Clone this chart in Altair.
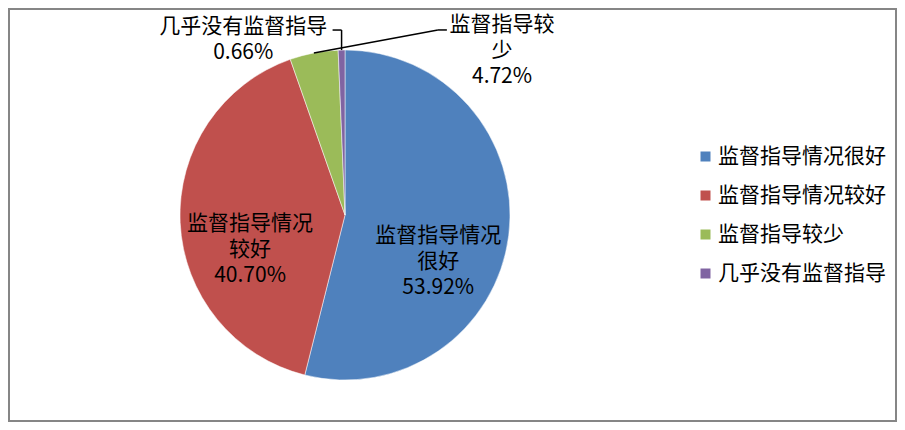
import altair as alt
import pandas as pd

# ---------------- data ----------------
categories = ["监督指导情况很好", "监督指导情况较好", "监督指导较少", "几乎没有监督指导"]
values = [53.92, 40.70, 4.72, 0.66]
slice_labels = [
    "监督指导情况\n很好\n53.92%",
    "监督指导情况\n较好\n40.70%",
    "监督指导较\n少\n4.72%",
    "几乎没有监督指导\n0.66%",
]
colors = ["#4F81BD", "#C0504D", "#9BBB59", "#8064A2"]

df = pd.DataFrame({"cat": categories, "value": values,
                   "order": list(range(len(categories))), "label": slice_labels})

# ---------------- layout ----------------
W, H = 889, 414          # whole svg
CX, CY = 337, 207        # pie centre
R = 165
FONT = "Noto Sans CJK SC"
FS = 21

# label placement: category -> (radius, dx, dy)
label_layout = {
    categories[0]: (100, -6, 9),
    categories[1]: (100, 5, 4),
    categories[2]: (180, 191, -13),
    categories[3]: (180, -98, -8),
}
# leader lines: category -> (elbow dx, elbow dy, end dx) relative to slice edge
leader_layout = {
    categories[2]: (124, -23, 9),
    categories[3]: (0, -20, -9),
}

theta_scale = alt.Scale(domain=[0, 100])


def with_mid(ch):
    return ch.transform_window(
        cum="sum(value)", sort=[alt.SortField("order")], frame=[None, 0]
    ).transform_calculate(mid="datum.cum - datum.value / 2")


base = alt.Chart(df)

arcs = base.mark_arc(outerRadius=R, stroke="white", strokeWidth=0.5).encode(
    theta=alt.Theta("value:Q", stack=True, scale=theta_scale),
    color=alt.Color(
        "cat:N",
        scale=alt.Scale(domain=categories, range=colors),
        sort=categories,
        legend=alt.Legend(
            title=None, orient="none", legendX=687, legendY=138,
            symbolType="square", symbolSize=100, symbolStrokeWidth=0,
            labelFont=FONT, labelFontSize=FS, labelColor="black",
            labelOffset=2, rowPadding=17, padding=0, labelLimit=400,
        ),
    ),
    order=alt.Order("order:Q"),
    x=alt.value(CX),
    y=alt.value(CY),
)

layers = [arcs]

for cat, (r, dx, dy) in label_layout.items():
    t = with_mid(base).transform_filter(alt.datum.cat == cat).mark_text(
        radius=r, dx=dx, dy=dy, lineBreak="\n", lineHeight=26,
        font=FONT, fontSize=FS, color="black", align="center", baseline="middle",
    ).encode(
        theta=alt.Theta("mid:Q", scale=theta_scale),
        text="label:N",
        x=alt.value(CX),
        y=alt.value(CY),
    )
    layers.append(t)

for cat, (ex_dx, ex_dy, end_dx) in leader_layout.items():
    edge = with_mid(base).transform_filter(alt.datum.cat == cat).transform_calculate(
        ex=f"{CX} + {R} * sin(2 * PI * datum.mid / 100)",
        ey=f"{CY} - {R} * cos(2 * PI * datum.mid / 100)",
    ).transform_calculate(
        bx=f"datum.ex + ({ex_dx})",
        by=f"datum.ey + ({ex_dy})",
    ).transform_calculate(
        cx2=f"datum.bx + ({end_dx})",
    )
    seg1 = edge.mark_rule(color="black", strokeWidth=1.5).encode(
        x=alt.X("ex:Q", scale=None, axis=None),
        y=alt.Y("ey:Q", scale=None, axis=None),
        x2="bx:Q",
        y2="by:Q",
    )
    seg2 = edge.mark_rule(color="black", strokeWidth=1.5).encode(
        x=alt.X("bx:Q", scale=None, axis=None),
        y=alt.Y("by:Q", scale=None, axis=None),
        x2="cx2:Q",
        y2="by:Q",
    )
    layers += [seg1, seg2]

border = alt.Chart(pd.DataFrame({"a": [0]})).mark_rect(
    fillOpacity=0, stroke="#868686", strokeWidth=2
).encode(
    x=alt.value(1), x2=alt.value(W - 1), y=alt.value(1), y2=alt.value(H - 1)
)
layers.append(border)

chart = alt.layer(*layers).properties(
    width=W, height=H, padding=0, autosize=alt.AutoSizeParams(type="none"),
    background="white",
).configure_view(stroke=None)

chart.save("out.html", embed_options={"renderer": "svg", "actions": False})
